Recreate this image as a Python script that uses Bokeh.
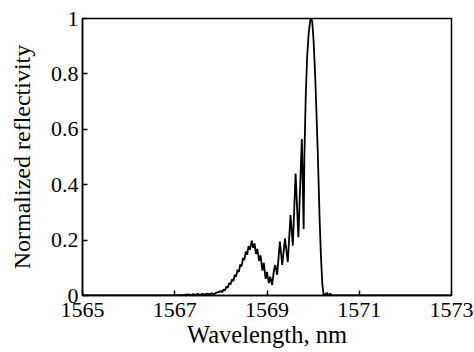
from bokeh.plotting import figure
from bokeh.models import Range1d, FixedTicker
from bokeh.embed import file_html
from bokeh.resources import INLINE

wavelength = [
    1565.0, 1567.0, 1567.2, 1567.3, 1567.35, 1567.4, 1567.45, 1567.5, 1567.55, 1567.6,
    1567.65, 1567.7, 1567.75, 1567.8, 1567.85, 1567.9, 1567.95, 1568.0, 1568.03, 1568.06,
    1568.09, 1568.12, 1568.15, 1568.18, 1568.21, 1568.24, 1568.27, 1568.30, 1568.33, 1568.36,
    1568.39, 1568.42, 1568.45, 1568.48, 1568.51, 1568.54, 1568.57, 1568.60, 1568.63, 1568.67,
    1568.70, 1568.73, 1568.76, 1568.79, 1568.83, 1568.86, 1568.90, 1568.93, 1568.97, 1569.00,
    1569.04, 1569.07, 1569.11, 1569.15, 1569.18, 1569.22, 1569.28, 1569.33, 1569.39, 1569.45,
    1569.51, 1569.56, 1569.62, 1569.68, 1569.755, 1569.795, 1569.81, 1569.84, 1569.87, 1569.905,
    1569.94, 1569.96, 1569.98, 1570.01, 1570.05, 1570.08, 1570.10, 1570.12, 1570.14, 1570.17,
    1570.20, 1570.23, 1570.27, 1570.3, 1570.33, 1570.37, 1570.42, 1570.5, 1573.0,
]
reflectivity = [
    0.0, 0.0, 0.002, 0.004, 0.001, 0.005, 0.002, 0.006, 0.002, 0.006,
    0.003, 0.007, 0.004, 0.008, 0.005, 0.010, 0.012, 0.016, 0.012, 0.022,
    0.018, 0.032, 0.028, 0.045, 0.040, 0.058, 0.052, 0.075, 0.068, 0.092,
    0.085, 0.112, 0.105, 0.135, 0.128, 0.158, 0.148, 0.178, 0.165, 0.198,
    0.172, 0.188, 0.150, 0.168, 0.125, 0.145, 0.090, 0.118, 0.060, 0.085,
    0.045, 0.068, 0.038, 0.090, 0.110, 0.075, 0.195, 0.110, 0.205, 0.120,
    0.290, 0.180, 0.440, 0.210, 0.565, 0.240, 0.500, 0.720, 0.860, 0.950,
    0.995, 1.0, 0.990, 0.920, 0.770, 0.620, 0.520, 0.400, 0.280, 0.140,
    0.040, 0.0, 0.004, 0.010, 0.002, 0.006, 0.0, 0.0, 0.0,
]
x_ticks = [1565, 1567, 1569, 1571, 1573]
y_ticks = [0, 0.2, 0.4, 0.6, 0.8, 1.0]
y_tick_labels = ["0", "0.2", "0.4", "0.6", "0.8", "1"]

FONT = "Liberation Serif"

p = figure(width=474, height=352, output_backend="svg", toolbar_location=None,
           x_range=Range1d(1565, 1573), y_range=Range1d(0, 1),
           min_border_left=82, min_border_top=18, min_border_right=23, min_border_bottom=57)
p.line(wavelength, reflectivity, line_color="black", line_width=1.8)

p.grid.visible = False
p.outline_line_color = "black"
p.outline_line_width = 1.5
p.background_fill_color = "white"
p.border_fill_color = "white"

for ax in (p.xaxis[0], p.yaxis[0]):
    ax.axis_line_color = "black"
    ax.axis_line_width = 1.5
    ax.major_tick_in = 5
    ax.major_tick_out = 0
    ax.major_tick_line_width = 1.5
    ax.minor_tick_line_color = None
    ax.major_label_text_font = FONT
    ax.major_label_text_font_size = "22px"
    ax.major_label_text_color = "black"
    ax.axis_label_text_font = FONT
    ax.axis_label_text_font_style = "normal"
    ax.axis_label_text_color = "black"

p.xaxis.axis_label_text_font_size = "24.5px"
p.yaxis.axis_label_text_font_size = "24px"
p.xaxis.major_label_standoff = 7
p.yaxis.major_label_standoff = 4
p.xaxis.ticker = FixedTicker(ticks=x_ticks)
p.yaxis.ticker = FixedTicker(ticks=y_ticks)
p.yaxis.major_label_overrides = {t: s for t, s in zip(y_ticks, y_tick_labels)}
p.xaxis.axis_label = "Wavelength, nm"
p.yaxis.axis_label = "Normalized reflectivity"
p.xaxis.axis_label_standoff = 1
p.yaxis.axis_label_standoff = 13

open("out.html", "w").write(file_html(p, INLINE))
